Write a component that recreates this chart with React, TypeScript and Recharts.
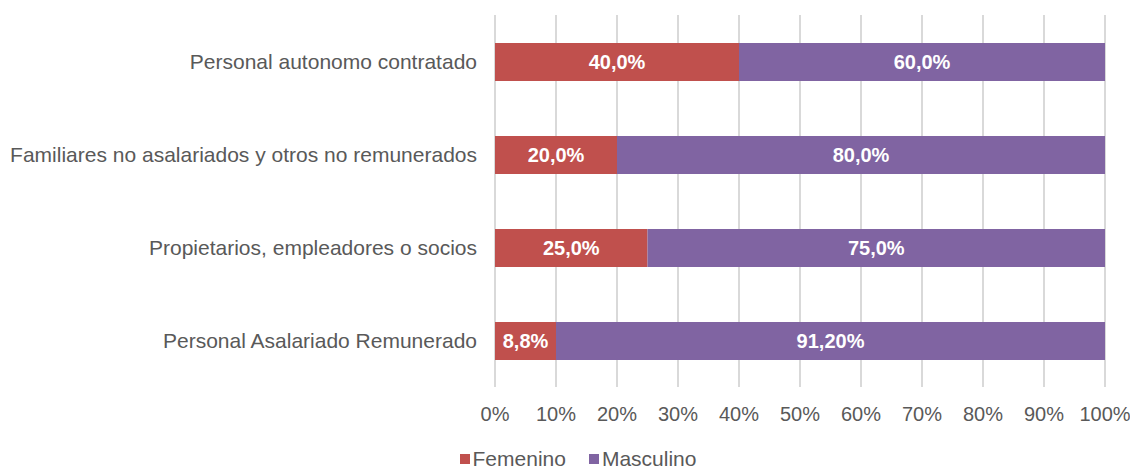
import { BarChart, Bar, XAxis, YAxis, CartesianGrid, Legend, LabelList } from "recharts";

const categories = [
  "Personal autonomo contratado",
  "Familiares no asalariados y otros no remunerados",
  "Propietarios, empleadores o socios",
  "Personal Asalariado Remunerado",
];
const femenino = [40, 20, 25, 10];
const masculino = [60, 80, 75, 90];
const femeninoLabels = ["40,0%", "20,0%", "25,0%", "8,8%"];
const masculinoLabels = ["60,0%", "80,0%", "75,0%", "91,20%"];
const xTicks = [0, 10, 20, 30, 40, 50, 60, 70, 80, 90, 100];

const RED = "#C0504D";
const PURPLE = "#8064A2";
const TEXT = "#595959";
const FONT = "'Liberation Sans', Arial, sans-serif";

const data = categories.map((name, i) => ({
  name,
  femenino: femenino[i],
  masculino: masculino[i],
  fLabel: femeninoLabels[i],
  mLabel: masculinoLabels[i],
}));

const series = [
  { key: "Femenino", color: RED },
  { key: "Masculino", color: PURPLE },
];

function LegendContent() {
  return (
    <div
      style={{
        display: "flex",
        justifyContent: "center",
        marginLeft: 74,
        fontFamily: FONT,
        fontSize: 21,
        color: TEXT,
        lineHeight: "22px",
      }}
    >
      {series.map((s) => (
        <div key={s.key} style={{ display: "flex", alignItems: "center", marginRight: 23 }}>
          <span style={{ width: 10, height: 10, background: s.color, marginRight: 3, display: "inline-block" }} />
          <span>{s.key}</span>
        </div>
      ))}
    </div>
  );
}

export default function App() {
  return (
    <div style={{ position: "absolute", left: 0, top: 0, background: "#fff" }}>
      <BarChart
        width={1130}
        height={470}
        data={data}
        layout="vertical"
        margin={{ top: 15, right: 25, bottom: 0, left: 0 }}
        barSize={38}
      >
        <CartesianGrid horizontal={false} stroke="#d9d9d9" strokeWidth={2} />
        <XAxis
          type="number"
          domain={[0, 100]}
          ticks={xTicks}
          tickFormatter={(v: number) => `${v}%`}
          axisLine={false}
          tickLine={false}
          tickSize={0}
          tickMargin={20}
          height={61}
          interval={0}
          tick={{ fill: TEXT, fontSize: 20, fontFamily: FONT }}
        />
        <YAxis
          type="category"
          dataKey="name"
          width={495}
          axisLine={false}
          tickLine={false}
          tickSize={0}
          tickMargin={18}
          interval={0}
          tick={{ fill: TEXT, fontSize: 21, fontFamily: FONT }}
        />
        <Legend verticalAlign="bottom" height={22} content={<LegendContent />} />
        <Bar dataKey="femenino" name="Femenino" stackId="a" fill={RED} isAnimationActive={false}>
          <LabelList
            dataKey="fLabel"
            position="center"
            fill="#fff"
            style={{ fontWeight: 700, fontSize: 20, fontFamily: FONT }}
          />
        </Bar>
        <Bar dataKey="masculino" name="Masculino" stackId="a" fill={PURPLE} isAnimationActive={false}>
          <LabelList
            dataKey="mLabel"
            position="center"
            fill="#fff"
            style={{ fontWeight: 700, fontSize: 20, fontFamily: FONT }}
          />
        </Bar>
      </BarChart>
    </div>
  );
}
